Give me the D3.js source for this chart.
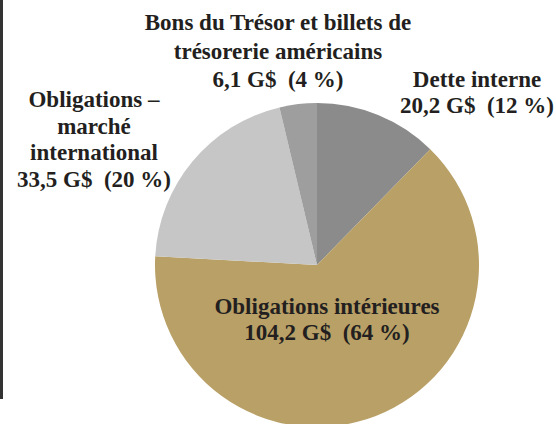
<!DOCTYPE html>
<html>
<head>
<meta charset="utf-8">
<script src="https://cdn.jsdelivr.net/npm/d3@7"></script>
<style>
  html, body { margin: 0; padding: 0; background: #fff; }
  svg { display: block; }
  text { white-space: pre; }
</style>
</head>
<body>
<script>
// données (G$ et %)
const names = ['Dette interne', 'Obligations intérieures', 'Obligations – marché international', 'Bons du Trésor et billets de trésorerie américains']
const values = [20.2, 104.2, 33.5, 6.1]
const percents = [12, 64, 20, 4]
const labelLines = [
  ['Dette interne'],
  ['Obligations intérieures'],
  ['Obligations –', 'marché', 'international'],
  ['Bons du Trésor et billets de', 'trésorerie américains']
]
const sliceColors = ['#8b8b8b', '#b9a066', '#c6c6c6', '#9e9e9e']

const width = 556
const height = 424
const cx = 317
const cy = 265
const radius = 162

// position des étiquettes (centre x, première ligne de base, interligne)
const labelPos = [
  { x: 477, y: 87, lh: 26 },
  { x: 327, y: 314, lh: 26 },
  { x: 94, y: 107, lh: 26.7 },
  { x: 278, y: 30, lh: 28.5 }
]

const fmt = (v) => d3.format('.1f')(v).replace('.', ',')

const svg = d3
  .select('body')
  .append('svg')
  .attr('width', width)
  .attr('height', height)

// bordure gauche
svg.append('rect').attr('x', 0).attr('y', 0).attr('width', 3).attr('height', 399).attr('fill', '#333')

const data = names.map((n, i) => ({ name: n, value: values[i], pct: percents[i], lines: labelLines[i], color: sliceColors[i], pos: labelPos[i] }))

const pie = d3.pie().sort(null).value((d) => d.value)
const arc = d3.arc().innerRadius(0).outerRadius(radius)

const g = svg.append('g').attr('transform', `translate(${cx},${cy})`)

g.selectAll('path')
  .data(pie(data))
  .join('path')
  .attr('d', arc)
  .attr('fill', (d) => d.data.color)

// étiquettes
const labels = svg
  .append('g')
  .style('font-family', '"Liberation Serif", "DejaVu Serif", serif')
  .style('font-weight', 'bold')
  .style('font-size', '23px')
  .attr('fill', '#231f20')
  .attr('text-anchor', 'middle')
  .selectAll('text')
  .data(data)
  .join('text')

labels.each(function (d) {
  const t = d3.select(this)
  const lines = d.lines.concat([`${fmt(d.value)} G$  (${d.pct} %)`])
  lines.forEach((l, i) => {
    t.append('tspan')
      .attr('x', d.pos.x)
      .attr('y', d.pos.y + i * d.pos.lh)
      .text(l)
  })
})
</script>
</body>
</html>
